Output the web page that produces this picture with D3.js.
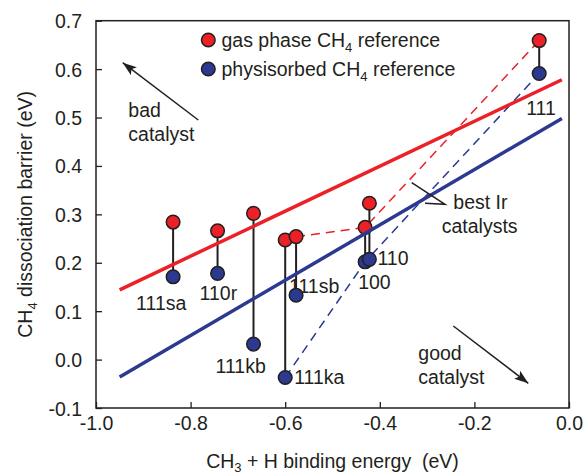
<!DOCTYPE html>
<html>
<head>
<meta charset="utf-8">
<script src="https://cdn.jsdelivr.net/npm/d3@7"></script>
<style>
  body { margin: 0; background: #fff; }
  svg text { font-family: "Liberation Sans", Arial, Helvetica, sans-serif; fill: #231f20; }
</style>
</head>
<body>
<div id="chart"></div>
<script>
// surfaces and their values (eV)
var surfaces      = ["111sa", "110r", "111kb", "111ka", "111sb", "100", "110", "111"];
var bindingEnergy = [-0.837, -0.743, -0.667, -0.600, -0.577, -0.431, -0.422, -0.063];
var gasBarrier    = [0.284, 0.266, 0.302, 0.247, 0.254, 0.273, 0.323, 0.659];
var physBarrier   = [0.171, 0.178, 0.032, -0.037, 0.133, 0.202, 0.207, 0.591];

// linear fits (end points)
var fitX    = [-0.95, -0.015];
var gasFit  = [0.144, 0.578];
var physFit = [-0.036, 0.498];

// dashed connections (indices into the arrays above)
var gasDashed  = [4, 5, 7];
var physDashed = [3, 5, 7];

var xTicks = [-1.0, -0.8, -0.6, -0.4, -0.2, 0.0];
var yTicks = [-0.1, 0.0, 0.1, 0.2, 0.3, 0.4, 0.5, 0.6, 0.7];

// label offsets from the blue point, px
var labelDx = [-37, -18, -38, 9, -7, -7, 8, -13];
var labelDy = [33, 27, 29, 6, -2, 27, 6, 42];

var red  = '#ec2027';
var blue = '#2b3990';
var ink  = '#231f20';
var fs   = 19.5;

var width = 587, height = 476;
var plotL = 96, plotR = 569, plotT = 20.7, plotB = 408;

var svg = d3.select('#chart').append('svg')
  .attr('width', width)
  .attr('height', height);

var x = d3.scaleLinear().domain([-1, 0]).range([plotL, plotR]);
var y = d3.scaleLinear().domain([-0.1, 0.7]).range([plotB, plotT]);

// arrow head
svg.append('defs').append('marker')
  .attr('id', 'arrow')
  .attr('viewBox', '0 0 14 10')
  .attr('refX', 14).attr('refY', 5)
  .attr('markerWidth', 14).attr('markerHeight', 10)
  .attr('markerUnits', 'userSpaceOnUse')
  .attr('orient', 'auto')
  .append('path')
  .attr('d', 'M0,0 L14,5 L0,10 L3,5 Z')
  .attr('fill', ink);

// axes with inward ticks
var xAxis = svg.append('g')
  .attr('transform', 'translate(0,' + plotB + ')')
  .call(d3.axisBottom(x).tickValues(xTicks).tickSizeInner(-6).tickSizeOuter(0)
    .tickPadding(8).tickFormat(function(d) { return d.toFixed(1); }));
var yAxis = svg.append('g')
  .attr('transform', 'translate(' + plotL + ',0)')
  .call(d3.axisLeft(y).tickValues(yTicks).tickSizeInner(-6).tickSizeOuter(0)
    .tickPadding(14).tickFormat(function(d) { return d.toFixed(1); }));

[xAxis, yAxis].forEach(function(g) {
  g.select('.domain').remove();
  g.selectAll('line').attr('stroke', ink).attr('stroke-width', 1.3);
  g.selectAll('text').attr('font-size', fs).attr('fill', ink)
    .style('font-family', '"Liberation Sans", Arial, sans-serif');
});
yAxis.selectAll('text').attr('dy', '0.36em');

// frame
svg.append('rect')
  .attr('x', plotL).attr('y', plotT)
  .attr('width', plotR - plotL).attr('height', plotB - plotT)
  .attr('fill', 'none').attr('stroke', ink).attr('stroke-width', 1.5);

// axis titles
var xt = svg.append('text')
  .attr('x', (plotL + plotR) / 2).attr('y', 468)
  .attr('text-anchor', 'middle').attr('font-size', fs);
xt.append('tspan').text('CH');
xt.append('tspan').attr('font-size', 13).attr('dy', 4).text('3');
xt.append('tspan').attr('dy', -4).text(' + H binding energy \u00a0(eV)');

var yt = svg.append('text')
  .attr('transform', 'translate(32,' + (plotT + plotB) / 2 + ') rotate(-90)')
  .attr('text-anchor', 'middle').attr('font-size', fs);
yt.append('tspan').text('CH');
yt.append('tspan').attr('font-size', 13).attr('dy', 5).text('4');
yt.append('tspan').attr('dy', -5).text(' dissociation barrier (eV)');

var idx = d3.range(surfaces.length);

// surface labels (under the points)
svg.append('g').selectAll('text').data(idx).enter().append('text')
  .attr('x', function(i) { return x(bindingEnergy[i]) + labelDx[i]; })
  .attr('y', function(i) { return y(physBarrier[i]) + labelDy[i]; })
  .attr('font-size', fs)
  .text(function(i) { return surfaces[i]; });

// dashed connections
var dashLine = d3.line()
  .x(function(d) { return x(d[0]); })
  .y(function(d) { return y(d[1]); });

svg.append('path')
  .attr('d', dashLine(gasDashed.map(function(i) { return [bindingEnergy[i], gasBarrier[i]]; })))
  .attr('fill', 'none').attr('stroke', red).attr('stroke-width', 1.5)
  .attr('stroke-dasharray', '9,6');
svg.append('path')
  .attr('d', dashLine(physDashed.map(function(i) { return [bindingEnergy[i], physBarrier[i]]; })))
  .attr('fill', 'none').attr('stroke', blue).attr('stroke-width', 1.5)
  .attr('stroke-dasharray', '9,6');

// vertical connectors
svg.append('g').selectAll('line').data(idx).enter().append('line')
  .attr('x1', function(i) { return x(bindingEnergy[i]); })
  .attr('x2', function(i) { return x(bindingEnergy[i]); })
  .attr('y1', function(i) { return y(gasBarrier[i]); })
  .attr('y2', function(i) { return y(physBarrier[i]); })
  .attr('stroke', ink).attr('stroke-width', 2);

// points
var pts = svg.append('g');
pts.selectAll('circle.gas').data(idx).enter().append('circle')
  .attr('cx', function(i) { return x(bindingEnergy[i]); })
  .attr('cy', function(i) { return y(gasBarrier[i]); })
  .attr('r', 6.8).attr('fill', red).attr('stroke', ink).attr('stroke-width', 1.5);
pts.selectAll('circle.phys').data(idx).enter().append('circle')
  .attr('cx', function(i) { return x(bindingEnergy[i]); })
  .attr('cy', function(i) { return y(physBarrier[i]); })
  .attr('r', 6.8).attr('fill', blue).attr('stroke', ink).attr('stroke-width', 1.5);

// fit lines
svg.append('line')
  .attr('x1', x(fitX[0])).attr('y1', y(gasFit[0]))
  .attr('x2', x(fitX[1])).attr('y2', y(gasFit[1]))
  .attr('stroke', red).attr('stroke-width', 3.5);
svg.append('line')
  .attr('x1', x(fitX[0])).attr('y1', y(physFit[0]))
  .attr('x2', x(fitX[1])).attr('y2', y(physFit[1]))
  .attr('stroke', blue).attr('stroke-width', 3.5);

// legend
var legend = [
  { color: red,  pre: 'gas phase CH', post: ' reference', cy: 40 },
  { color: blue, pre: 'physisorbed CH', post: ' reference', cy: 69 }
];
legend.forEach(function(l) {
  svg.append('circle')
    .attr('cx', 208.3).attr('cy', l.cy).attr('r', 6.8)
    .attr('fill', l.color).attr('stroke', ink).attr('stroke-width', 1.5);
  var t = svg.append('text')
    .attr('x', 221.5).attr('y', l.cy + 6.5).attr('font-size', fs);
  t.append('tspan').text(l.pre);
  t.append('tspan').attr('font-size', 13).attr('dy', 5).text('4');
  t.append('tspan').attr('dy', -5).text(l.post);
});

// annotations
function note(lines, xx, yy, dy) {
  var t = svg.append('text').attr('font-size', fs);
  lines.forEach(function(s, k) {
    t.append('tspan').attr('x', xx[k]).attr('y', yy + k * dy).text(s);
  });
}
note(['bad', 'catalyst'], [128.3, 128.3], 116.7, 24);
note(['good', 'catalyst'], [418.3, 418.3], 360, 23.5);
note(['best Ir', 'catalysts'], [453.3, 441.7], 209.3, 23.5);

svg.append('line')
  .attr('x1', 198.3).attr('y1', 120).attr('x2', 122.7).attr('y2', 62.7)
  .attr('stroke', ink).attr('stroke-width', 1.5).attr('marker-end', 'url(#arrow)');
svg.append('line')
  .attr('x1', 453.3).attr('y1', 326).attr('x2', 528.3).attr('y2', 383.3)
  .attr('stroke', ink).attr('stroke-width', 1.5).attr('marker-end', 'url(#arrow)');
svg.append('polyline')
  .attr('points', '411.7,182.7 445,204.3 425,203.3')
  .attr('fill', 'none').attr('stroke', ink).attr('stroke-width', 1.5);
</script>
</body>
</html>
